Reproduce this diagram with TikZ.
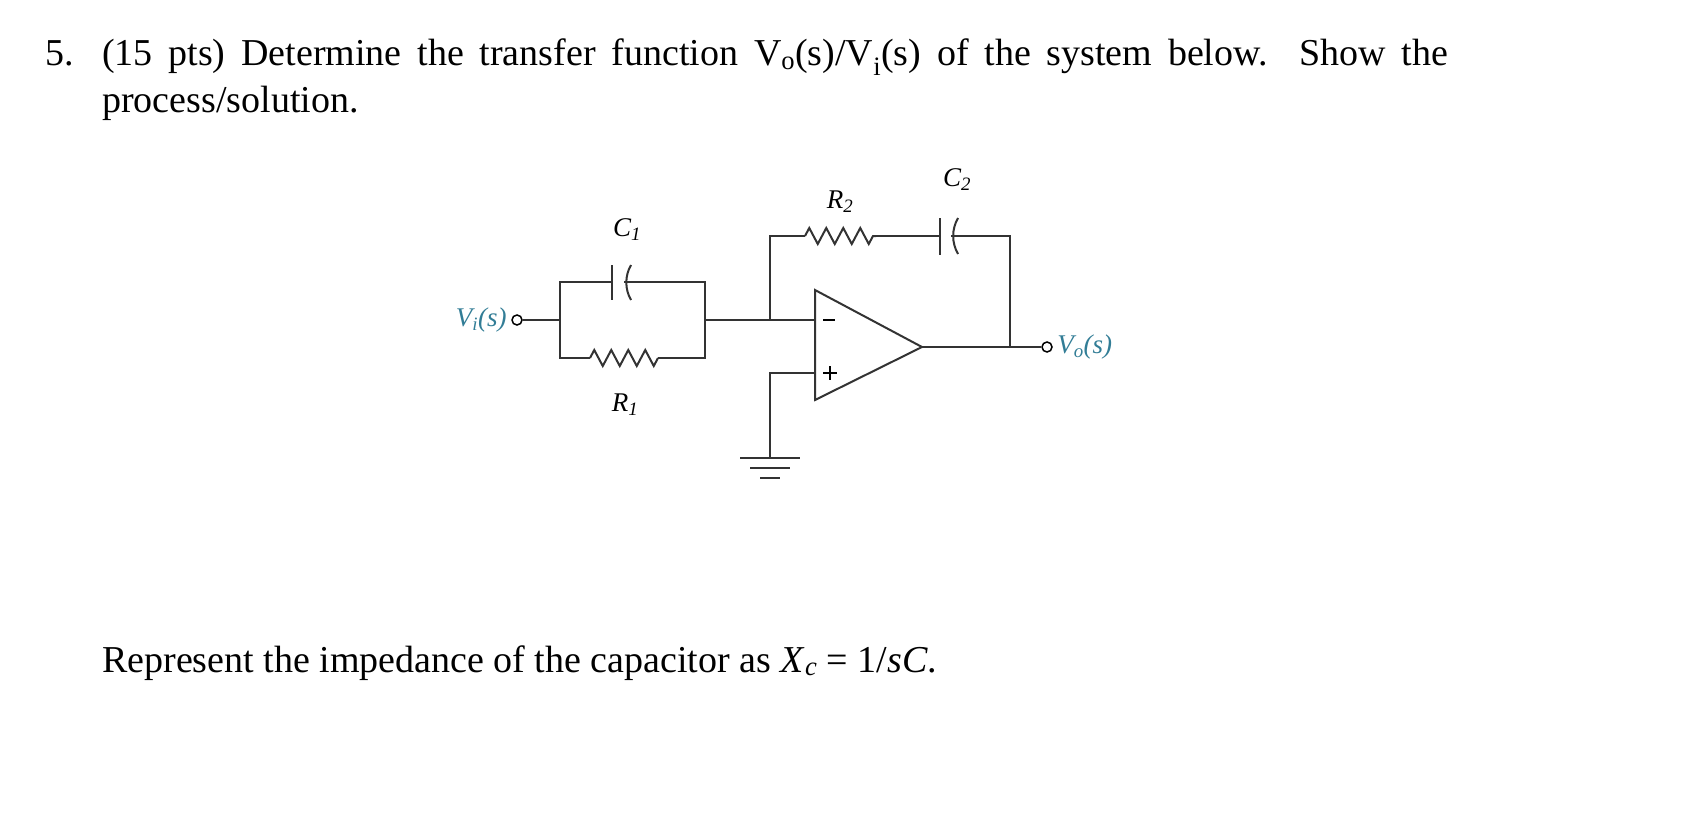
\documentclass[tikz,border=0pt]{standalone}
\usepackage{fontspec}
\setmainfont{Liberation Serif}
\usetikzlibrary{decorations.pathmorphing, positioning}
\definecolor{lbl}{RGB}{50,125,150}
\tikzset{
  wire/.style={line width=2pt, black!80},
  res/.style={wire, decoration={zigzag, segment length=17pt, amplitude=8pt}, decorate},
  term/.style={circle, draw, line width=1.5pt, inner sep=0pt, minimum size=10pt},
  clabel/.style={font=\fontsize{27}{30}\selectfont\itshape},
  body/.style={font=\fontsize{38}{42}\selectfont, anchor=base west, inner sep=0pt}
}
\begin{document}
\begin{tikzpicture}[x=1pt, y=-1pt]
    \useasboundingbox (0,0) rectangle (1694,816);
    % question text
    \node[body] (num) at (45,66) {5.};
    \node[body] (q1) at (102,66) {\makebox[1346pt][s]{(15 pts) Determine the transfer function V\textsubscript{o}(s)/V\textsubscript{i}(s) of the system below. Show the}};
    \node[body] (q2) at (102,112) {process/solution.};
    \node[body] (hint) at (102,672) {Represent the impedance of the capacitor as \textit{X}\textsubscript{\textit{c}} = 1/\textit{sC}.};
    % terminals
    \node[term] (vi) at (517,320) {};
    \node[term] (vo) at (1047,347) {};
    \node[clabel, lbl, left=1pt of vi] (vil) {V\textsubscript{\textit{i}}(s)};
    \node[clabel, lbl, right=1pt of vo] (vol) {V\textsubscript{\textit{o}}(s)};
    % input network
    \coordinate (a) at (560,320);
    \coordinate (b) at (705,320);
    \draw[wire] (vi) -- (a) -- (560,282) -- (612,282);
    \draw[wire] (612,265) -- (612,300);
    \draw[wire] (631,265) arc[start angle=150, end angle=210, radius=35pt];
    \draw[wire] (624,282) -- (705,282) -- (b);
    \draw[wire] (a) -- (560,358) -- (590,358);
    \draw[res] (590,358) -- (658,358);
    \draw[wire] (658,358) -- (705,358) -- (b);
    \node[clabel] (c1) at (627,230) {C\textsubscript{1}};
    \node[clabel] (r1) at (625,405) {R\textsubscript{1}};
    % op amp
    \draw[wire] (815,290) -- (815,400) -- (922,347) -- cycle;
    \draw[line width=1.2pt] (823,320) -- (835,320);
    \draw[line width=1.2pt] (823,373) -- (837,373) (830,366) -- (830,380);
    \coordinate (inv) at (770,320);
    \draw[wire] (b) -- (815,320);
    \draw[wire] (815,373) -- (770,373) -- (770,458);
    \draw[wire] (740,458) -- (800,458) (750,468) -- (790,468) (760,478) -- (780,478);
    \draw[wire] (922,347) -- (vo);
    % feedback
    \draw[wire] (inv) -- (770,236) -- (805,236);
    \draw[res] (805,236) -- (876,236);
    \draw[wire] (876,236) -- (940,236);
    \draw[wire] (940,218) -- (940,255);
    \draw[wire] (958,218) arc[start angle=150, end angle=210, radius=36pt];
    \draw[wire] (951,236) -- (1010,236) -- (1010,347);
    \node[clabel] (r2) at (840,202) {R\textsubscript{2}};
    \node[clabel] (c2) at (957,180) {C\textsubscript{2}};
\end{tikzpicture}
\end{document}
